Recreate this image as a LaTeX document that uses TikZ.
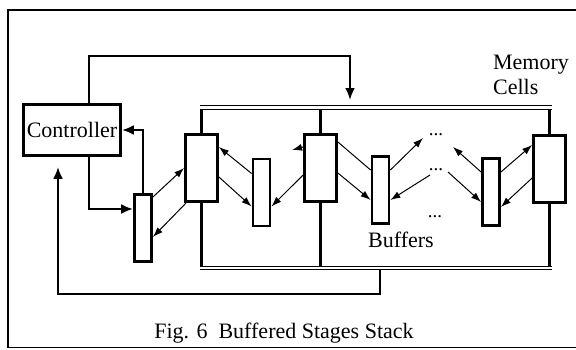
\documentclass[tikz,border=0pt]{standalone}
\usepackage{fontspec}
\setmainfont{Liberation Serif}
\usetikzlibrary{arrows.meta}

\begin{document}
\begin{tikzpicture}[x=0.5pt,y=0.5pt,
    font=\fontsize{11}{12.5}\selectfont,
    >={Latex[length=5pt,width=3.5pt]},
    cell/.style={draw,line width=1.4pt,minimum width=16pt,minimum height=33.5pt,inner sep=0pt},
    buf/.style={draw,line width=1.4pt,minimum width=8.5pt,minimum height=33.5pt,inner sep=0pt},
    wire/.style={line width=1.2pt,-{Latex[length=6pt,width=5pt]}},
    link/.style={line width=0.5pt},
    bus/.style={double,line width=0.5pt,double distance=1.2pt},
    dots/.style={inner sep=0pt,font=\fontsize{9.5}{9.5}\selectfont}]
  \useasboundingbox (0,0) rectangle (576,349);
  % Frame
  \draw[line width=0.8pt] (576,339) -- (8,339) -- (8,1.5) -- (576,1.5);
  % Controller
  \node[draw,line width=1.4pt,minimum width=48.5pt,minimum height=25.5pt,inner sep=0pt] (ctrl) at (72,219) {Controller};
  % Memory cells
  \node[cell] (cell1) at (201.5,181) {};
  \node[cell] (cell2) at (320.5,181) {};
  \node[cell] (cell3) at (549.5,180) {};
  % Buffers
  \node[buf] (buf1) at (143,121) {};
  \node[buf] (buf2) at (261.5,156.5) {};
  \node[buf] (buf3) at (380.5,159) {};
  \node[buf] (buf4) at (491,157) {};
  \node[dots] (dotsA) at (436,214) {...};
  \node[dots] (dotsB) at (436,179) {...};
  \node[dots] (dotsC) at (435,132) {...};
  % Labels
  \node[align=left,anchor=west] (mem) at (486,274) {Memory\\Cells};
  \node (bufs) at (401,109) {Buffers};
  \node (cap) at (284,16) {Fig. 6\ \ Buffered Stages Stack};
  % Buses
  \coordinate (topL) at (200,241.5);
  \coordinate (topR) at (552,241.5);
  \coordinate (botL) at (200,81);
  \coordinate (botR) at (552,81);
  \coordinate (topJ) at (0,240);
  \coordinate (botJ) at (0,82.5);
  \draw[bus] (topL) -- (topR);
  \draw[bus] (botL) -- (botR);
  \foreach \c in {cell1,cell2,cell3} {
    \draw[line width=1.2pt] (\c.north) -- (\c.north |- topJ);
    \draw[line width=1.2pt] (\c.south) -- (\c.south |- botJ);
  }
  % Feed lines to and from the controller
  \coordinate (loopT) at (350,293);
  \coordinate (busin) at (350,249);
  \draw[wire] ([xshift=8.5pt]ctrl.north) |- (loopT) -- (busin);
  \draw[wire] ([xshift=8.5pt]ctrl.south) |- ([yshift=9.5pt]buf1.west);
  \draw[wire] (buf1.north) |- (ctrl.east);
  \coordinate (fbout) at (380,80);
  \coordinate (loopB) at (58,55);
  \draw[wire] (fbout) |- (loopB) -- ([xshift=-7pt,yshift=-5pt]ctrl.south);
  % Links between cells and buffers
  \draw[link,->] ([yshift=15.5pt]buf1.east) -- (cell1.west);
  \draw[link,->] ([xshift=1pt]cell1.south west) -- ([yshift=-4.5pt]buf1.east);
  \draw[link,->] ([yshift=9.5pt]buf2.west) -- ([yshift=10.5pt]cell1.east);
  \draw[link,->] ([yshift=-4.5pt]cell1.east) -- ([yshift=-7pt]buf2.west);
  \draw[link,->] ([yshift=-3.5pt]cell2.west) -- ([yshift=-7pt]buf2.east);
  \draw[link,->] ([yshift=10.5pt]cell2.west) -- ++(-11,-3);
  \draw[link] ([yshift=13pt]cell2.east) -- ([yshift=10pt]buf3.west);
  \draw[link,->] ([yshift=-2.5pt]cell2.east) -- ([yshift=-5pt]buf3.west);
  \draw[link,->] ([yshift=10pt]buf3.east) -- ([xshift=-6.5pt,yshift=-1.5pt]dotsA.center);
  \draw[link,->] ([xshift=-3pt,yshift=-2.5pt]dotsB.center) -- ([yshift=-5pt]buf3.east);
  \draw[link,->] ([yshift=10pt]buf4.west) -- ([xshift=8.5pt,yshift=-6pt]dotsA.center);
  \draw[link,->] ([xshift=6pt,yshift=-1pt]dotsB.center) -- ([yshift=-5pt]buf4.west);
  \draw[link,->] ([yshift=10pt]buf4.east) -- ([yshift=12pt]cell3.west);
  \draw[link,->] ([yshift=-4.5pt]cell3.west) -- ([yshift=-7.5pt]buf4.east);
\end{tikzpicture}
\end{document}
